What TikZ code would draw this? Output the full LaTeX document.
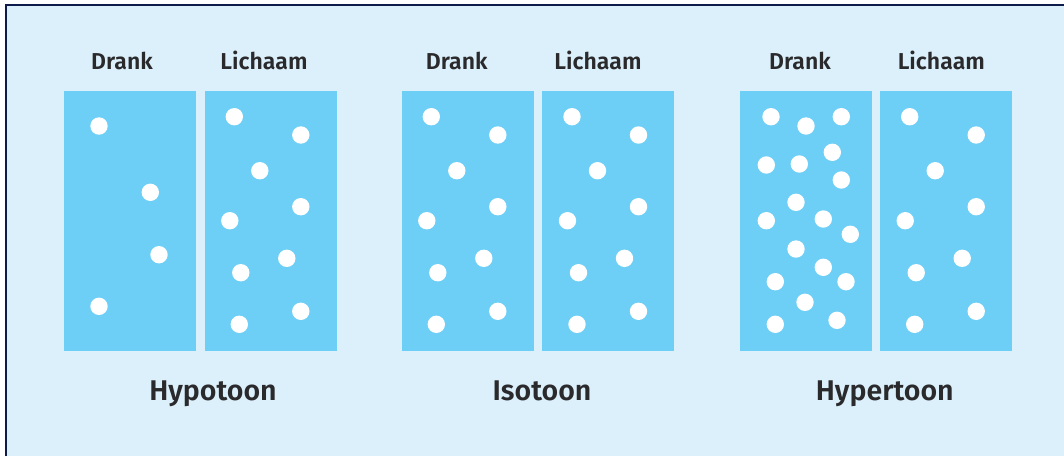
\documentclass[tikz,border=0pt]{standalone}
\usepackage{fontspec}
\setmainfont{Fira Sans}[BoldFont={Fira Sans SemiBold}]
\definecolor{bgblue}{HTML}{DCF0FB}
\definecolor{boxblue}{HTML}{6DCFF6}
\definecolor{navy}{HTML}{0D1B4A}
\definecolor{txt}{HTML}{2A2A2C}
\tikzset{
  panel/.style={fill=boxblue, draw=none, minimum width=132pt, minimum height=260.5pt, inner sep=0pt, anchor=north west},
  dot/.style={fill=white},
  head/.style={font=\fontsize{23}{25}\selectfont\bfseries, text=txt, anchor=base, inner sep=0pt},
  title/.style={font=\fontsize{28.5}{31}\selectfont\bfseries, text=txt, anchor=base, inner sep=0pt}
}
\newcommand{\stddots}[1]{%
  \foreach \dx/\dy in {30/116.7, 96.5/135, 55.5/170.7, 96.5/206.7, 25.5/220.7, 82.5/258.3, 36.5/272.7, 96.5/311.3, 35/324.3}
    {\fill[dot] ({#1+\dx},\dy) circle (8.7);}%
}
\begin{document}
\begin{tikzpicture}[x=1pt,y=-1pt]
\useasboundingbox (0,0) rectangle (1064,456);
\fill[white] (0,0) rectangle (1064,456);
\fill[bgblue] (6,4.8) rectangle (1064,456);
\draw[navy, line width=2pt] (6,456) -- (6,4.8) -- (1064,4.8);

% panel 1: Hypotoon
\node[panel] (d1) at (64,90.7) {};
\node[panel] (l1) at (204.3,90.7) {};
\node[head] (hd1) at (122,69.5) {Drank};
\node[head] (hl1) at (264,69.5) {Lichaam};
\node[title] (t1) at (213,400) {Hypotoon};
\foreach \x/\y in {99/126, 150.3/192.3, 159/254.7, 99/306.3}
  {\fill[dot] (\x,\y) circle (8.7);}
\stddots{204.3}

% panel 2: Isotoon
\node[panel] (d2) at (401.3,90.7) {};
\node[panel] (l2) at (542,90.7) {};
\node[head] (hd2) at (456.7,69.5) {Drank};
\node[head] (hl2) at (598,69.5) {Lichaam};
\node[title] (t2) at (542,400) {Isotoon};
\stddots{401.3}
\stddots{542}

% panel 3: Hypertoon
\node[panel] (d3) at (739.3,90.7) {};
\node[panel] (l3) at (879.7,90.7) {};
\node[head] (hd3) at (800,69.5) {Drank};
\node[head] (hl3) at (941.3,69.5) {Lichaam};
\node[title] (t3) at (884.8,400) {Hypertoon};
\foreach \x/\y in {771/116.7, 806/126, 841.3/116.7, 832.3/152.3, 766.3/165, 799.3/164, 841.3/180,
  796/202.3, 766.3/220.7, 823.3/219, 850.3/234.3, 796/249, 823.3/267.3, 775.3/281.7, 846/281.7,
  805/302.3, 775.3/324.3, 837/320.3}
  {\fill[dot] (\x,\y) circle (8.7);}
\stddots{879.7}
\end{tikzpicture}
\end{document}
